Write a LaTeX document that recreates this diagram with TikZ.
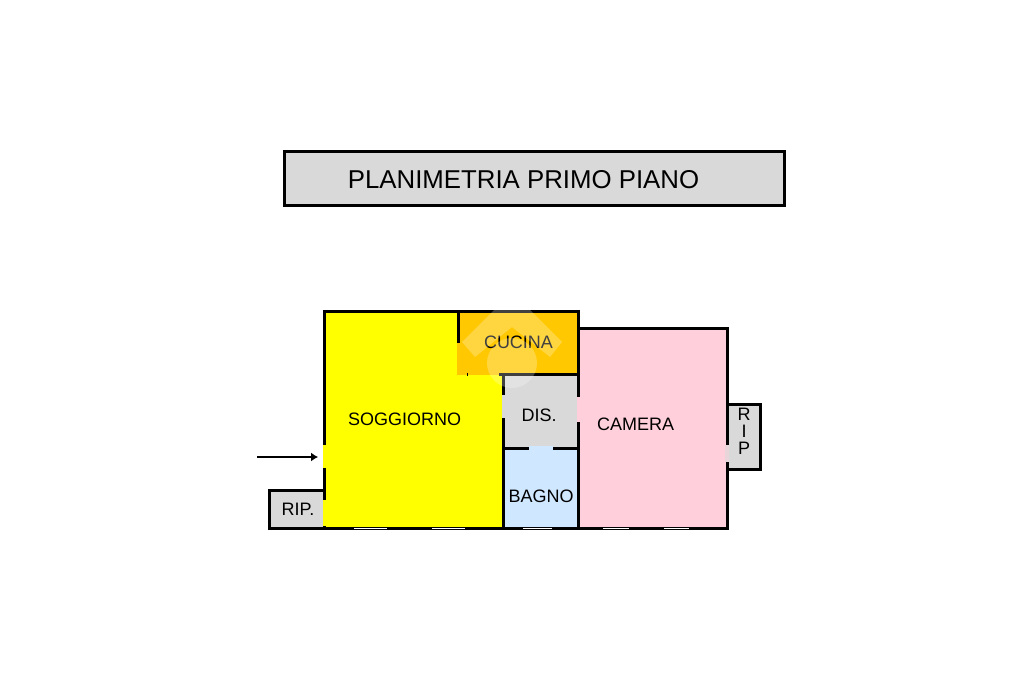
\documentclass[tikz,border=0pt]{standalone}
\usepackage{fontspec}
\setmainfont{Liberation Sans}
\usetikzlibrary{arrows.meta}
\definecolor{roomyellow}{HTML}{FFFF00}
\definecolor{roomgrey}{HTML}{D9D9D9}
\definecolor{roomblue}{HTML}{CFE7FF}
\definecolor{roompink}{HTML}{FFCFDB}
\definecolor{roomorange}{HTML}{FFC800}
\begin{document}
\begin{tikzpicture}[x=1pt,y=-1pt,
		wall/.style={draw=black,line width=3pt,line cap=rect},
		opening/.style={line width=3.2pt},
		window/.style={draw=white,line width=1.3pt},
		label/.style={font=\fontsize{18}{17}\selectfont,inner sep=0pt},
	]
	\useasboundingbox (0,0) rectangle (1024,682);
	
	% title
	\node[draw=black,line width=3pt,fill=roomgrey,minimum width=500pt,minimum height=54pt,inner sep=0pt] (titlebox) at (534.5,178.5) {};
	\node[font=\fontsize{25.8}{28}\selectfont,inner sep=0pt] (title) at (523.5,179.5) {PLANIMETRIA PRIMO PIANO};
	
	% rooms
	\fill[roomyellow] (324.7,312) -- (458,312) -- (458,375) -- (503.5,375) -- (503.5,528) -- (324.7,528) -- cycle;
	\fill[roomorange] (457,312) rectangle (578,375);
	\fill[roomgrey] (503.5,375) rectangle (578,448);
	\fill[roomblue] (503.5,448) rectangle (578,528);
	\fill[roompink] (578,328) rectangle (727,528);
	\fill[roomgrey] (269.5,490) rectangle (325,528);
	\fill[roomgrey] (727,404.5) rectangle (760.5,469.5);
	
	% walls
	\draw[wall] (458.5,341) -- (458.5,311.5) -- (578.5,311.5) -- (578.5,528);
	\draw[wall] (500,374.5) -- (578,374.5);
	\draw[wall] (324.7,528) -- (324.7,311.5) -- (458,311.5);
	\draw[wall] (578,328) -- (727,328) -- (727,528);
	\draw[wall] (503.5,375) -- (503.5,528);
	\draw[wall] (504,448) -- (578,448);
	\draw[wall] (269.5,528) -- (727,528);
	\draw[wall] (269.5,528) -- (269.5,490) -- (323,490);
	\draw[wall] (727,404.5) -- (760.5,404.5) -- (760.5,469.5) -- (727,469.5);
	\draw[black,line width=1pt] (467,373) -- (467,376);
	
	% openings
	\draw[opening,roomyellow] (324.7,445) -- (324.7,468);
	\draw[opening,roomyellow] (324.7,500) -- (324.7,526);
	\draw[opening,roomgrey] (503.5,395) -- (503.5,418);
	\draw[opening,roompink] (578.5,397) -- (578.5,422);
	\draw[opening,roomblue] (529,448) -- (553,448);
	\draw[opening,roomgrey!60!roompink] (727,445) -- (727,462);
	
	% windows
	\foreach \xa/\xb in {354/387, 432/465, 523/552, 603/629, 664/689}
		\draw[window] (\xa,528.2) -- (\xb,528.2);
	
	% labels
	\node[label] (soggiorno) at (404.5,419.5) {SOGGIORNO};
	\node[label] (cucina) at (518.5,342) {CUCINA};
	\node[label] (dis) at (539,415) {DIS.};
	\node[label] (bagno) at (541,496.5) {BAGNO};
	\node[label] (camera) at (635.5,424) {CAMERA};
	\node[label] (ripleft) at (298,509.5) {RIP.};
	\node[label,align=center] (ripright) at (744,431.5) {R\\I\\P};
	
	% entrance arrow
	\coordinate (arrowstart) at (257,457);
	\coordinate (arrowend) at (318,457);
	\draw[-{Latex[length=7pt,width=9pt]},line width=1.2pt] (arrowstart) -- (arrowend);
	
	% watermark
	\fill[white,opacity=0.25] (462,342) -- (494,310) -- (530,310) -- (562,342) -- (550,357) -- (512,327) -- (475,357) -- cycle;
	\fill[white,opacity=0.25] (512,363) circle (25);
\end{tikzpicture}
\end{document}
